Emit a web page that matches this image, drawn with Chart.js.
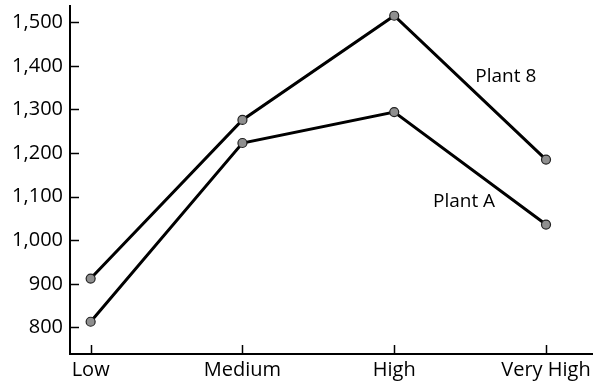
<!DOCTYPE html>
<html>
<head>
<meta charset="utf-8">
<script src="https://cdn.jsdelivr.net/npm/chart.js@4"></script>
<style>
  html, body { margin: 0; padding: 0; background: #fff; }
  #wrap { width: 593px; height: 387px; position: relative; }
</style>
</head>
<body>
<div id="wrap"><canvas id="c"></canvas></div>
<script>
// Output level categories and the two plants' values
const categories = ['Low', 'Medium', 'High', 'Very High'];
const plantB = [912, 1276, 1515, 1185];
const plantA = [813, 1223, 1294, 1036];
const yTicks = [800, 900, 1000, 1100, 1200, 1300, 1400, 1500];

// Series name labels placed beside the lines (in data units)
const seriesLabels = [
  { text: 'Plant 8', x: 2.735, y: 1375 },
  { text: 'Plant A', x: 2.46, y: 1088 }
];

const FONT = '"Open Sans", sans-serif';

const toPoints = arr => arr.map((v, i) => ({ x: i, y: v }));

// Baseline running to the right edge, inward tick marks and series name labels
const decor = {
  id: 'decor',
  afterDraw(chart) {
    const { ctx, scales: { x, y }, chartArea } = chart;
    ctx.save();
    ctx.strokeStyle = '#000';
    ctx.lineWidth = 2;
    ctx.beginPath();
    ctx.moveTo(chartArea.left - 1, chartArea.bottom);
    ctx.lineTo(chart.width, chartArea.bottom);
    ctx.stroke();

    ctx.lineWidth = 1.5;
    y.ticks.forEach(t => {
      const py = Math.round(y.getPixelForValue(t.value)) + 0.5;
      ctx.beginPath();
      ctx.moveTo(chartArea.left, py);
      ctx.lineTo(chartArea.left + 9, py);
      ctx.stroke();
    });
    x.ticks.forEach(t => {
      const px = Math.round(x.getPixelForValue(t.value)) + 0.5;
      ctx.beginPath();
      ctx.moveTo(px, chartArea.bottom);
      ctx.lineTo(px, chartArea.bottom - 9);
      ctx.stroke();
    });
    ctx.fillStyle = '#000';
    ctx.font = '19px ' + FONT;
    ctx.textAlign = 'center';
    ctx.textBaseline = 'middle';
    seriesLabels.forEach(l => {
      ctx.fillText(l.text, x.getPixelForValue(l.x), y.getPixelForValue(l.y));
    });
    ctx.restore();
  }
};

const lineStyle = {
  borderColor: '#000',
  borderWidth: 3,
  pointRadius: 4.5,
  pointBackgroundColor: '#8f8f8f',
  pointBorderColor: '#222',
  pointBorderWidth: 1.2,
  tension: 0,
  fill: false
};

new Chart(document.getElementById('c'), {
  type: 'line',
  data: {
    datasets: [
      Object.assign({ label: 'Plant 8', data: toPoints(plantB) }, lineStyle),
      Object.assign({ label: 'Plant A', data: toPoints(plantA) }, lineStyle)
    ]
  },
  options: {
    responsive: true,
    maintainAspectRatio: false,
    animation: false,
    layout: { padding: { top: 5, right: 0, bottom: 0, left: 0 } },
    plugins: { legend: { display: false }, tooltip: { enabled: false } },
    scales: {
      x: {
        type: 'linear',
        min: -0.136,
        max: 3.272,
        afterBuildTicks: s => { s.ticks = categories.map((_, i) => ({ value: i })); },
        afterFit: s => { s.height = 33; s.paddingLeft = 0; s.paddingRight = 0; },
        grid: { display: false, drawTicks: false },
        border: { display: false },
        ticks: {
          padding: 4,
          color: '#000',
          font: { family: FONT, size: 20 },
          maxRotation: 0,
          autoSkip: false,
          callback: v => categories[v]
        }
      },
      y: {
        type: 'linear',
        min: 739,
        max: 1538,
        afterBuildTicks: s => { s.ticks = yTicks.map(v => ({ value: v })); },
        afterFit: s => { s.width = 70; s.paddingTop = 0; s.paddingBottom = 0; },
        grid: { display: false, drawTicks: false },
        border: { display: true, color: '#000', width: 2 },
        ticks: {
          padding: 7,
          color: '#000',
          font: { family: FONT, size: 20 },
          callback: v => v.toLocaleString('en-US')
        }
      }
    }
  },
  plugins: [decor]
});
</script>
</body>
</html>
